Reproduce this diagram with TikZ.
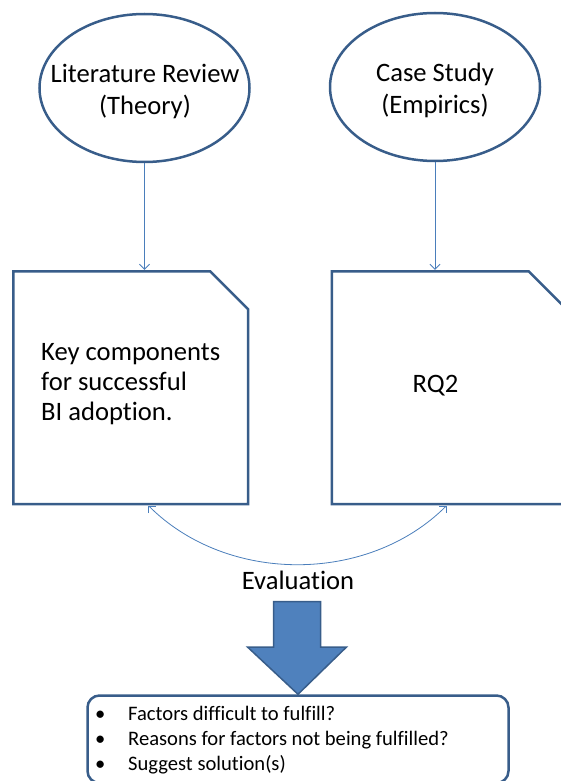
\documentclass[tikz,border=0pt]{standalone}
\usepackage{fontspec}
\setmainfont{Carlito}[Ligatures=NoCommon]
\usetikzlibrary{shapes.geometric,arrows.meta}

\definecolor{shapeblue}{HTML}{385D8A}
\definecolor{linkblue}{HTML}{4A7EBB}
\definecolor{arrowfill}{HTML}{4F81BD}

\tikzset{
  ell/.style={ellipse, draw=shapeblue, line width=2.5pt, minimum width=210pt,
              minimum height=148pt, inner sep=0pt},
  boxarea/.style={rectangle, inner sep=0pt, minimum width=234.5pt, minimum height=232.5pt},
  frame/.style={draw=shapeblue, line width=2.5pt, line join=miter},
  conn/.style={draw=linkblue, line width=0.8pt, -{Straight Barb[length=5pt,width=10pt]}},
  bigtext/.style={font=\fontsize{26.6}{32}\selectfont, text=black, inner sep=0pt},
  boxtext/.style={font=\fontsize{26.6}{30}\selectfont, text=black, inner sep=0pt},
  itemtext/.style={font=\fontsize{20.6}{25}\selectfont, text=black, inner sep=0pt, anchor=base west},
  listbox/.style={rectangle, draw=shapeblue, line width=2.5pt, rounded corners=12pt,
                  minimum width=421pt, minimum height=87.5pt, inner sep=0pt},
  bigarrow/.style={fill=arrowfill, draw=shapeblue, line width=1.5pt, line join=miter},
}

\begin{document}
\begin{tikzpicture}[x=1pt, y=-1pt]
  \useasboundingbox (0,0) rectangle (561,781);
  \clip (0,0) rectangle (561,781);

  % source ellipses
  \node[ell] (lit) at (144.5,88) {};
  \node[ell] (case) at (435,87) {};
  \node[bigtext, align=center] (littext) at (145,91) {Literature Review\\(Theory)};
  \node[bigtext, align=center] (casetext) at (435,90) {Case Study\\(Empirics)};

  % result boxes (cut top-right corner)
  \node[boxarea] (b1) at (130.75,387.75) {};
  \node[boxarea] (b2) at (449.25,387.75) {};
  \foreach \b in {b1,b2}
    \draw[frame] (\b.north west) -- ([xshift=-38pt]\b.north east)
      -- ([yshift=-38pt]\b.north east) -- (\b.south east) -- (\b.south west) -- cycle;

  \node[boxtext, align=left, anchor=west] (t1) at (41,384.5)
    {Key components\\for successful\\BI adoption.};
  \node[boxtext] (t2) at (435.5,386) {RQ2};

  % connectors
  \draw[conn, shorten >=1.5pt] (lit.south) -- (lit.south |- b1.north);
  \draw[conn, shorten >=1.5pt] (case.south) -- (case.south |- b2.north);
  \draw[conn, {Straight Barb[length=5pt,width=10pt]}-{Straight Barb[length=5pt,width=10pt]},
        shorten <=2pt, shorten >=2pt]
    ([xshift=16.25pt]b1.south) .. controls +(80,80) and +(-80,80) .. ([xshift=-1.25pt]b2.south);

  \node[bigtext] (eval) at (298,580.5) {Evaluation};

  % outcome list
  \node[listbox] (res) at (298,739.25) {};
  \draw[bigarrow] (273.5,601.5) -- (320.5,601.5) -- (320.5,647) -- (346.5,647)
    -- (res.north) -- (247.5,647) -- (273.5,647) -- cycle;

  \foreach \line [count=\i] in {{Factors difficult to fulfill?},
                                {Reasons for factors not being fulfilled?},
                                {Suggest solution(s)}}
    \node[itemtext] (item\i) at (95,720+25*\i-25) {\makebox[33pt][l]{\textbullet}\line};
\end{tikzpicture}
\end{document}
